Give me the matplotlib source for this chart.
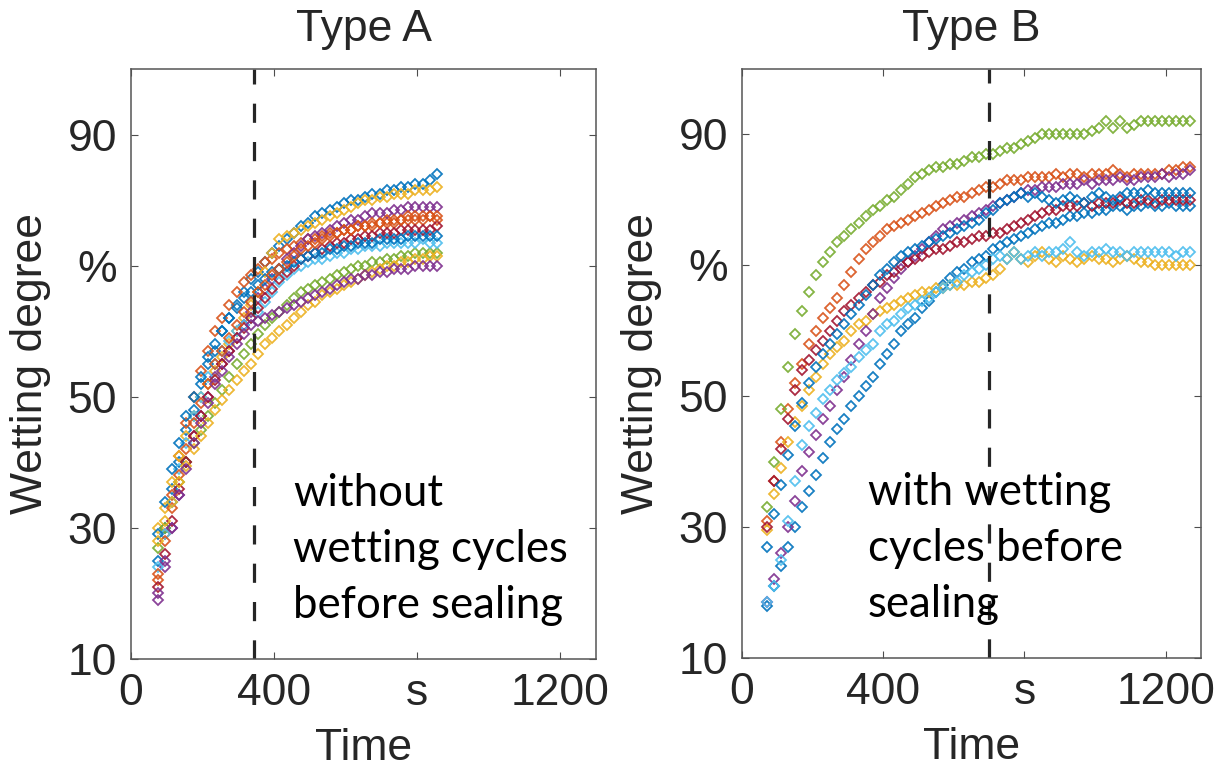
import matplotlib
matplotlib.use('Agg')
import matplotlib.pyplot as plt

# MATLAB default colour order
COLORS = ['#0072BD', '#D95319', '#EDB120', '#7E2F8E', '#77AC30', '#4DBEEE', '#A2142F']

# ---- Type A : without wetting cycles before sealing ----
TIME_A = list(range(75, 856, 20))
A_BLUE = [25, 30, 36, 40, 45, 48, 52, 55, 57, 60, 62, 64, 66, 68, 69, 70.5, 72, 73, 74, 75,
          76, 76.5, 77.5, 78, 78.5, 79, 79.5, 80, 80, 80.5, 81, 81, 81.5, 81.5, 82, 82, 82.5, 82.5, 83, 84]
A_ORANGE = [22, 29, 35, 41, 46, 50, 54, 57, 60, 62, 64, 66, 67.5, 68.5, 69.5, 70.5, 71, 72, 72.5, 73,
            73.5, 74, 74, 74.5, 75, 75, 75.5, 75.5, 76, 76, 76, 76.5, 76.5, 76.5, 77, 77, 77, 77, 77.5, 77]
A_YELLOW = [30, 33, 37, 41, 44, 47, 50, 52, 54, 56, 58, 60, 62, 64, 66, 69, 72, 74, 74.5, 75,
            75.5, 76, 76.5, 77, 77.5, 78, 78.5, 79, 79.5, 80, 80, 80.5, 80.5, 81, 81, 81, 81.5, 81.5, 81.5, 82]
A_PURPLE = [19, 24, 30, 35, 40, 44, 47, 50, 53, 55, 57, 59, 61, 63, 65, 66.5, 68, 69.5, 71, 72,
            73, 74, 74.5, 75, 75.5, 76, 76.5, 77, 77, 77.5, 78, 78, 78, 78.5, 78.5, 79, 79, 79, 79, 79]
A_GREEN = [27, 30, 34, 37, 40, 43, 45, 47, 49, 51, 53, 55, 56.5, 58, 59.5, 61, 62, 63, 64, 65,
           66, 66.5, 67, 67.5, 68, 68.5, 69, 69.5, 70, 70, 70.5, 70.5, 71, 71, 71.5, 71.5, 72, 72, 72, 72]
A_CYAN = [24, 29, 34, 39, 43, 47, 50, 53, 55, 57, 58.5, 60, 61, 62, 63, 64.5, 66, 67.5, 68.5, 69.5,
          70, 70.5, 71, 71, 71.5, 72, 72, 72.5, 72.5, 73, 73, 73, 73.5, 73.5, 73.5, 73.5, 73.5, 74, 73.5, 73.5]
A_RED = [21, 26, 31, 36, 40, 44, 47, 50, 52.5, 55, 57, 59, 60.5, 62, 63.5, 65, 66.5, 68, 69, 70,
         71, 71.5, 72, 72.5, 73, 73.5, 73.5, 74, 74, 74.5, 74.5, 75, 75, 75, 75.5, 75.5, 75.5, 75.5, 75.5, 76]
A_BLUE2 = [29, 34, 39, 43, 47, 50, 53, 56, 58, 60, 62, 63.5, 65, 66, 67, 68, 69, 69.5, 70, 70.5,
           71, 71.5, 72, 72, 72.5, 72.5, 73, 73, 73.5, 73.5, 73.5, 74, 74, 74, 74, 74.5, 74.5, 74.5, 74.5, 74.5]
A_ORANGE2 = [23, 28, 33, 38, 42, 46, 49, 52, 55, 57, 59, 61, 63, 64.5, 66, 67, 68.5, 69.5, 70.5, 71.5,
             72.5, 73, 73.5, 74, 74.5, 75, 75.5, 75.5, 76, 76, 76.5, 76.5, 77, 77, 77, 77.5, 77.5, 77.5, 77.5, 77.5]
A_YELLOW2 = [28, 31, 34, 37, 39.5, 42, 44, 46, 48, 49.5, 51, 52.5, 54, 55, 56.5, 58, 59, 60, 61, 62,
             63, 64, 64.5, 65.5, 66, 66.5, 67, 67.5, 68, 68.5, 69, 69.5, 70, 70, 70.5, 70.5, 71, 71, 71.5, 71.5]
A_PURPLE2 = [20, 25, 30, 35, 39, 43, 46, 49, 52, 54, 56, 58, 59.5, 61, 61.5, 62, 62.5, 63, 63.5, 64,
             64.5, 65, 65.5, 66, 66.5, 67, 67.5, 68, 68, 68.5, 68.5, 69, 69, 69.5, 69.5, 69.5, 70, 70, 70, 70]
SERIES_A = [A_BLUE, A_ORANGE, A_YELLOW, A_PURPLE, A_GREEN, A_CYAN, A_RED,
            A_BLUE2, A_ORANGE2, A_YELLOW2, A_PURPLE2]

# ---- Type B : with wetting cycles before sealing ----
TIME_B = list(range(70, 1271, 20))
B_BLUE = [18, 21, 24, 27, 30, 33, 35.5, 38, 40.5, 43, 45, 46.5, 48.5, 50, 51.5, 53, 55, 56.5, 58, 60,
          61, 62, 63.5, 64.5, 66, 67, 68, 69, 69.5, 70.5, 71, 71.5, 72.5, 73, 73.5, 74, 74.5, 75, 75.5, 76,
          76.5, 76.5, 77, 77.5, 77.5, 78, 78, 78.5, 78.5, 79, 79, 78.5, 79, 79, 79.5, 79, 79, 79.5, 79, 79, 79]
B_ORANGE = [31, 37, 43, 48, 52, 55, 58, 60, 62, 63.5, 65, 67, 69, 71, 72.5, 73.5, 74.5, 75.5, 76, 76.5,
            77, 77.5, 78, 78.5, 79, 79.5, 80, 80.5, 80.5, 81, 81.5, 82, 82, 82.5, 83, 83, 83, 83.5, 83.5, 83.5,
            83.5, 84, 83.5, 84, 84, 83.5, 84, 84, 84, 84.5, 84, 83.5, 84, 84, 84, 84, 84, 84.5, 84.5, 85, 85]
B_YELLOW = [29.5, 35, 39, 43, 46, 48.5, 51, 53, 55, 56.5, 57.5, 58.5, 60, 61, 61.5, 62.5, 63, 63.5, 64, 64.5,
            65, 65.5, 66, 66, 66.5, 66.5, 67, 67, 67, 67.5, 67.5, 68, 68.5, 69.5, 71, 72, 71, 70.5, 71.5, 72,
            71, 70.5, 71.5, 71, 70.5, 71, 71.5, 71, 71, 70.5, 71, 71.5, 71, 70.5, 70.5, 70, 70, 70, 70, 70, 70]
B_PURPLE = [18.5, 22, 26, 30, 34, 38.5, 41.5, 44, 46.5, 48.5, 51, 53, 55.5, 58, 60, 62.5, 65, 66.5, 68, 69.5,
            70.5, 71.5, 72.5, 73.5, 74.5, 75.5, 76, 76.5, 77, 77.5, 78, 78.5, 79, 79.5, 80, 80.5, 81, 81.5, 81.5, 82,
            82, 82, 82.5, 82.5, 82.5, 83, 82.5, 83, 83, 83, 83.5, 83, 83, 83.5, 83.5, 83.5, 84, 83.5, 84, 84, 84.5]
B_GREEN = [33, 40, 48, 54.5, 59.5, 63, 66, 68.5, 70.5, 72, 73.5, 74.5, 75.5, 76.5, 77.5, 78.5, 79, 80, 80.5, 81.5,
           82.5, 83.5, 84, 84.5, 85, 85, 85.5, 85.5, 86, 86.5, 86.5, 87, 87, 87.5, 88, 88, 88.5, 89, 89.5, 90,
           90, 90, 90, 90, 90, 90, 90.5, 91, 92, 91, 92, 91, 91.5, 92, 92, 92, 92, 92, 92, 92, 92]
B_CYAN = [18.5, 21, 25, 31, 37, 42.5, 45.5, 47.5, 49.5, 51, 52.5, 53.5, 54.5, 56, 57, 58, 60, 61, 61.5, 62.5,
          63.5, 64, 64.5, 65, 66, 66.5, 67, 67.5, 68.5, 69, 69.5, 70, 71, 71.5, 71, 72, 71, 71.5, 72, 71.5,
          72, 72, 72.5, 73.5, 72, 71.5, 72, 72, 72.5, 72, 72, 71.5, 72, 72, 72, 72, 72, 72, 71.5, 72, 72]
B_RED = [30, 37, 42, 46.5, 51, 54, 55.5, 57, 58.5, 60, 61.5, 63, 64, 65, 66, 67, 67.5, 68.5, 69, 70,
         70.5, 71, 71.5, 72, 72.5, 72.5, 73, 73.5, 73.5, 74, 74.5, 74.5, 75, 75, 75.5, 76, 76.5, 77, 77.5, 78,
         78.5, 78.5, 79, 79, 79, 79.5, 79, 79.5, 79.5, 79.5, 80, 79.5, 79.5, 80, 80, 79.5, 80, 80, 80, 80, 80]
B_BLUE2 = [27, 32, 36.5, 41, 45.5, 49, 52, 54.5, 56.5, 58, 59.5, 61, 62.5, 64, 65.5, 67, 68.5, 69.5, 70.5, 71.5,
           72, 72.5, 73, 73.5, 74, 74.5, 75, 75.5, 76, 76.5, 77, 78, 78.5, 79.5, 80, 80.5, 81, 80.5, 81, 80.5,
           80, 79.5, 80, 80.5, 80, 79.5, 80.5, 81, 80.5, 80, 80.5, 81, 81, 81, 81.5, 81, 81, 81, 81, 81, 81]
SERIES_B = [B_BLUE, B_ORANGE, B_YELLOW, B_PURPLE, B_GREEN, B_CYAN, B_RED, B_BLUE2]

SEAL_A = 345
SEAL_B = 700
TITLES = ['Type A', 'Type B']
NOTES = ['without\nwetting cycles\nbefore sealing', 'with wetting\ncycles before\nsealing']
NOTE_X = [0.348, 0.2745]
XTICKS = [0, 400, 800, 1200]
XTICKLABELS = ['0', '400', 's', '1200']
YTICKS = [10, 30, 50, 70, 90]
YTICKLABELS = ['10', '30', '50', '%', '90']

TICK_FONT = 'Liberation Sans'
NOTE_FONT = 'Lato'
GREY = '#262626'
FS = 32


def draw_panel(ax, time, series, seal, title, note, note_x):
    for i, vals in enumerate(series):
        ax.plot(time, vals, linestyle='none', marker='D', markersize=5.2,
                markerfacecolor='none', markeredgewidth=1.3,
                markeredgecolor=COLORS[i % len(COLORS)], alpha=0.9)
    ax.axvline(seal, color=GREY, linewidth=2.3, linestyle=(0, (6, 6)))
    ax.set_xlim(0, 1300)
    ax.set_ylim(10, 100)
    ax.set_xticks(XTICKS)
    ax.set_xticklabels(XTICKLABELS, family=TICK_FONT)
    ax.set_yticks(YTICKS)
    ax.set_yticklabels(YTICKLABELS, family=TICK_FONT)
    ax.tick_params(direction='in', top=True, right=True, length=5, width=0.8,
                   labelsize=FS, colors='#4d4d4d', labelcolor=GREY, pad=10)
    for sp in ax.spines.values():
        sp.set_color('#555555')
        sp.set_linewidth(1.1)
    ax.set_title(title, fontsize=FS, family=TICK_FONT, color=GREY, pad=20)
    ax.set_xlabel('Time', fontsize=FS, family=TICK_FONT, color=GREY, labelpad=10)
    ax.set_ylabel('Wetting degree', fontsize=FS, family=TICK_FONT, color=GREY, labelpad=12)
    ax.text(note_x, 0.315, note, transform=ax.transAxes, fontsize=31.5, family=NOTE_FONT,
            color='black', va='top', ha='left', linespacing=1.45)


fig = plt.figure(figsize=(12.17, 7.69), dpi=100)
ax1 = fig.add_axes([131 / 1217, 1 - 659 / 769, 465 / 1217, 590 / 769])
ax2 = fig.add_axes([742 / 1217, 1 - 658 / 769, 459 / 1217, 589 / 769])

draw_panel(ax1, TIME_A, SERIES_A, SEAL_A, TITLES[0], NOTES[0], NOTE_X[0])
draw_panel(ax2, TIME_B, SERIES_B, SEAL_B, TITLES[1], NOTES[1], NOTE_X[1])

fig.savefig('out.png', dpi=100)
